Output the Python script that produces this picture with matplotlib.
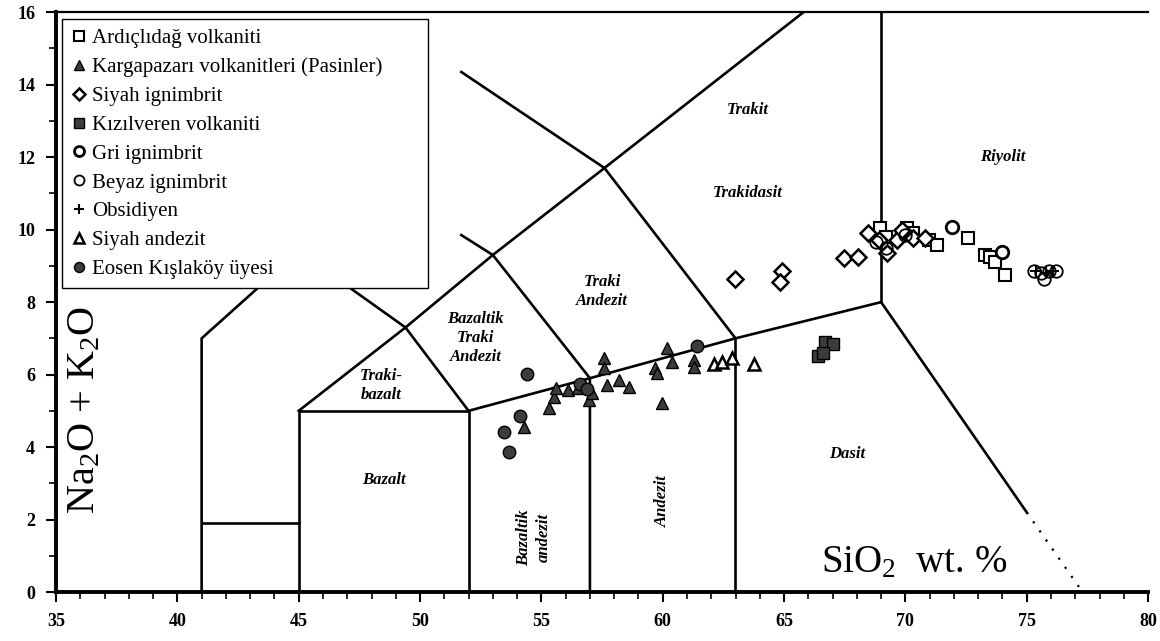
import matplotlib
matplotlib.use("Agg")
import matplotlib.pyplot as plt
from matplotlib.lines import Line2D
from matplotlib.ticker import MultipleLocator

plt.rcParams["font.family"] = ["Liberation Serif", "DejaVu Serif"]
plt.rcParams["mathtext.fontset"] = "custom"
plt.rcParams["mathtext.rm"] = "Liberation Serif"
plt.rcParams["mathtext.it"] = "Liberation Serif:italic"
plt.rcParams["mathtext.bf"] = "Liberation Serif:bold"

# ---- TAS field boundaries (SiO2, Na2O+K2O) ----
boundary_lines = [
    [(41, 0), (41, 7), (45, 9.4), (49.4, 7.3), (52, 5)],
    [(41, 1.9), (45, 1.9)],
    [(45, 0), (45, 5), (52, 5), (52, 0)],
    [(45, 5), (49.4, 7.3), (53, 9.3), (57.6, 11.7), (65.8, 16)],
    [(51.7, 9.85), (53, 9.3), (57, 5.9), (57, 0)],
    [(51.7, 14.35), (57.6, 11.7), (63, 7), (63, 0)],
    [(52, 5), (57, 5.9), (63, 7), (69, 8), (75, 2.2)],
    [(69, 8), (69, 16)],
]
dotted_lines = [[(75, 2.2), (77.3, 0)]]

# ---- field names: (text, SiO2, alkali, rotation) ----
field_labels = [
    ("Trakit", 63.5, 13.3, 0),
    ("Riyolit", 74.0, 12.0, 0),
    ("Trakidasit", 63.5, 11.0, 0),
    ("Traki\nAndezit", 57.5, 8.3, 0),
    ("Bazaltik\nTraki\nAndezit", 52.3, 7.0, 0),
    ("Traki-\nbazalt", 48.4, 5.7, 0),
    ("Bazalt", 48.5, 3.1, 0),
    ("Bazaltik\nandezit", 54.7, 1.5, 90),
    ("Andezit", 60.0, 2.5, 90),
    ("Dasit", 67.6, 3.8, 0),
]

# ---- sample groups ----
ardicli_sio2 = [68.97, 69.2, 70.08, 70.3, 70.99, 71.3, 72.56, 73.3, 73.5, 73.68, 74.1]
ardicli_alk = [10.04, 9.8, 10.04, 9.9, 9.71, 9.57, 9.77, 9.3, 9.25, 9.1, 8.74]

kargapazari_sio2 = [54.3, 55.33, 55.54, 55.62, 56.1, 56.5, 56.98, 57.07, 57.6, 57.6, 57.7,
                    58.2, 58.6, 59.67, 59.75, 60.17, 60.37, 59.96, 61.28, 61.3]
kargapazari_alk = [4.55, 5.07, 5.38, 5.62, 5.57, 5.62, 5.3, 5.49, 6.45, 6.18, 5.71,
                   5.85, 5.66, 6.18, 6.04, 6.73, 6.35, 5.21, 6.4, 6.21]

siyah_ign_sio2 = [62.98, 64.9, 64.85, 67.48, 68.06, 68.47, 68.93, 69.26, 69.67, 69.88, 70.3, 70.8]
siyah_ign_alk = [8.63, 8.85, 8.55, 9.21, 9.24, 9.9, 9.71, 9.35, 9.71, 9.99, 9.77, 9.77]

kizilveren_sio2 = [66.7, 67.0, 66.4, 66.6]
kizilveren_alk = [6.9, 6.85, 6.5, 6.6]

gri_sio2 = [71.94, 74.0]
gri_alk = [10.07, 9.38]

beyaz_sio2 = [68.8, 69.2, 70.0, 75.3, 75.6, 75.9, 76.2, 75.7]
beyaz_alk = [9.65, 9.5, 9.85, 8.85, 8.8, 8.85, 8.85, 8.65]

obsidiyen_sio2 = [75.4, 75.8, 76.1]
obsidiyen_alk = [8.85, 8.8, 8.85]

siyah_and_sio2 = [62.1, 62.45, 62.85, 63.75]
siyah_and_alk = [6.3, 6.35, 6.45, 6.3]

eosen_sio2 = [54.42, 54.13, 53.47, 53.68, 56.6, 56.9, 61.4]
eosen_alk = [6.01, 4.86, 4.41, 3.86, 5.75, 5.6, 6.8]

fill = "#3c3c3c"
groups = [
    ("Ardıçlıdağ volkaniti", ardicli_sio2, ardicli_alk,
     dict(marker="s", mfc="white", mec="black", mew=1.5)),
    ("Kargapazarı volkanitleri (Pasinler)", kargapazari_sio2, kargapazari_alk,
     dict(marker="^", mfc=fill, mec="black", mew=1.0)),
    ("Siyah ignimbrit", siyah_ign_sio2, siyah_ign_alk,
     dict(marker="D", mfc="white", mec="black", mew=1.8, ms=8)),
    ("Kızılveren volkaniti", kizilveren_sio2, kizilveren_alk,
     dict(marker="s", mfc=fill, mec="black", mew=1.0)),
    ("Gri ignimbrit", gri_sio2, gri_alk,
     dict(marker="o", mfc="white", mec="black", mew=2.0)),
    ("Beyaz ignimbrit", beyaz_sio2, beyaz_alk,
     dict(marker="o", mfc="none", mec="black", mew=1.3)),
    ("Obsidiyen", obsidiyen_sio2, obsidiyen_alk,
     dict(marker="+", mfc="none", mec="black", mew=1.5)),
    ("Siyah andezit", siyah_and_sio2, siyah_and_alk,
     dict(marker="^", mfc="white", mec="black", mew=1.8)),
    ("Eosen Kışlaköy üyesi", eosen_sio2, eosen_alk,
     dict(marker="o", mfc=fill, mec="black", mew=1.0)),
]

fig = plt.figure(figsize=(11.6, 6.41), dpi=100)
ax = fig.add_axes([0.0483, 0.0764, 0.9414, 0.9046])
ax.set_xlim(35, 80)
ax.set_ylim(0, 16)

for line in boundary_lines:
    xs, ys = zip(*line)
    ax.plot(xs, ys, color="black", lw=1.9, solid_joinstyle="miter", zorder=2)
for line in dotted_lines:
    xs, ys = zip(*line)
    ax.plot(xs, ys, color="black", lw=1.6, ls=(0, (1, 4)), zorder=2)

for text, x, y, rot in field_labels:
    ax.text(x, y, text, ha="center", va="center", rotation=rot,
            fontsize=12, fontweight="bold", fontstyle="italic",
            linespacing=1.25, zorder=3)

handles = []
for name, xs, ys, style in groups:
    st = dict(ms=9)
    st.update(style)
    ax.plot(xs, ys, ls="none", zorder=4, **st)
    handles.append(Line2D([], [], ls="none", label=name,
                          **{**st, "ms": st["ms"] * 0.8}))

leg = ax.legend(handles=handles, loc="upper left",
                bbox_to_anchor=(0.0055, 0.0, 0.335, 0.988), mode="expand",
                frameon=True, fancybox=False, edgecolor="black", fontsize=15,
                handlelength=0.7, handletextpad=0.3, labelspacing=0.445,
                borderpad=0.45, borderaxespad=0.0, framealpha=1.0)
leg.get_frame().set_linewidth(1.0)
leg.set_zorder(6)

ax.text(0.0266, 0.314, r"Na$_2$O + K$_2$O", transform=ax.transAxes,
        rotation=90, ha="center", va="center", fontsize=29)
ax.text(0.786, 0.05, r"SiO$_2$  wt. %", transform=ax.transAxes,
        ha="center", va="center", fontsize=28)

ax.xaxis.set_major_locator(MultipleLocator(5))
ax.xaxis.set_minor_locator(MultipleLocator(1))
ax.yaxis.set_major_locator(MultipleLocator(2))
ax.yaxis.set_minor_locator(MultipleLocator(1))
ax.tick_params(which="major", direction="out", length=7, width=1.5,
               labelsize=13, pad=8)
ax.tick_params(which="minor", direction="out", length=5, width=1.2)
ax.tick_params(top=False, right=False)
for lab in ax.get_xticklabels() + ax.get_yticklabels():
    lab.set_fontweight("bold")

ax.spines["left"].set_linewidth(2.8)
ax.spines["bottom"].set_linewidth(2.8)
ax.spines["top"].set_linewidth(1.6)
ax.spines["right"].set_visible(False)

fig.savefig("out.png", dpi=100)
